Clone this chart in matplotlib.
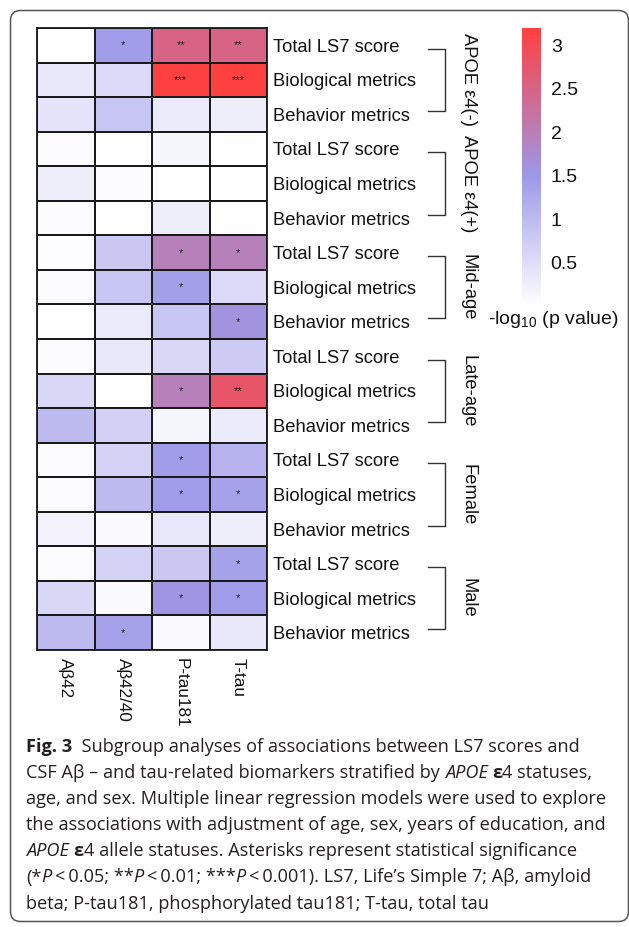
import numpy as np
import matplotlib.pyplot as plt
from matplotlib.colors import LinearSegmentedColormap
from matplotlib.patches import FancyBboxPatch

W, H = 629, 927

biomarkers = ['Aβ42', 'Aβ42/40', 'P-tau181', 'T-tau']
metrics = ['Total LS7 score', 'Biological metrics', 'Behavior metrics']
groups = ['APOE ε4(-)', 'APOE ε4(+)', 'Mid-age', 'Late-age', 'Female', 'Male']

# -log10(p) for each subgroup/metric row, columns follow biomarkers
apoe_neg = [[0.00, 1.45, 2.50, 2.50],
            [0.35, 0.55, 3.20, 3.20],
            [0.40, 0.85, 0.30, 0.25]]
apoe_pos = [[0.05, 0.00, 0.15, 0.00],
            [0.25, 0.05, 0.00, 0.00],
            [0.05, 0.00, 0.25, 0.00]]
mid_age = [[0.03, 0.80, 1.95, 1.95],
           [0.05, 0.85, 1.40, 0.55],
           [0.00, 0.30, 0.85, 1.60]]
late_age = [[0.05, 0.35, 0.60, 0.75],
            [0.60, 0.00, 1.95, 2.80],
            [1.00, 0.70, 0.15, 0.30]]
female = [[0.05, 0.65, 1.45, 1.10],
          [0.05, 1.00, 1.45, 1.35],
          [0.20, 0.08, 0.35, 0.25]]
male = [[0.05, 0.65, 0.80, 1.35],
        [0.60, 0.08, 1.55, 1.45],
        [1.00, 1.35, 0.08, 0.35]]

cbar_ticks = [0.5, 1, 1.5, 2, 2.5, 3]

plt.rcParams['font.family'] = ['Liberation Sans', 'DejaVu Sans']
plt.rcParams['mathtext.fontset'] = 'custom'
plt.rcParams['mathtext.rm'] = 'Liberation Sans'


def stars(v):
    '''Significance marks from -log10(p)'''
    if v >= 3:
        return '***'
    if v >= 2:
        return '**'
    if v >= -np.log10(0.05):
        return '*'
    return ''


def text_width(ax, s, renderer, **kw):
    '''Width in pixels, trailing/leading blanks included'''
    a = ax.text(0, 0, '|' + s + '|', **kw)
    b = ax.text(0, 0, '||', **kw)
    w = a.get_window_extent(renderer).width - b.get_window_extent(renderer).width
    a.remove()
    b.remove()
    return w


data = np.array(apoe_neg + apoe_pos + mid_age + late_age + female + male)
row_labels = metrics * len(groups)
n_rows, n_cols = data.shape

cmap = LinearSegmentedColormap.from_list(
    'pval', [(0, '#FFFFFF'), (0.47, '#9C98E8'), (1, '#FF4040')])

fig = plt.figure(figsize=(W / 100, H / 100), dpi=100)

# pixel-space overlay for frame, brackets and caption
ov = fig.add_axes([0, 0, 1, 1])
ov.set_xlim(0, W)
ov.set_ylim(H, 0)
ov.axis('off')
ov.add_patch(FancyBboxPatch((10.5, 10.5), W - 11, 911,
                            boxstyle='round,pad=0,rounding_size=10',
                            fc='none', ec='#555555', lw=1.1))

# heatmap
hm_left, hm_right, hm_top, hm_bottom = 37, 267, 28, 650
ax = fig.add_axes([hm_left / W, (H - hm_bottom) / H,
                   (hm_right - hm_left) / W, (hm_bottom - hm_top) / H])
mesh = ax.pcolormesh(data, cmap=cmap, vmin=0, vmax=3.2,
                     edgecolors='#1a1a1a', linewidth=1.3)
ax.set_xlim(0, n_cols)
ax.set_ylim(n_rows, 0)
for i in range(n_rows):
    for j in range(n_cols):
        s = stars(data[i, j])
        if s:
            ax.text(j + 0.5, i + 0.5, s, ha='center', va='center',
                    fontsize=8, color='#222222')
ax.yaxis.tick_right()
ax.set_yticks(np.arange(n_rows) + 0.5)
ax.set_yticklabels(row_labels, fontsize=13.2, color='#111111')
ax.set_xticks(np.arange(n_cols) + 0.5)
ax.set_xticklabels(biomarkers, rotation=-90, fontsize=12.3, color='#111111',
                   ha='center', va='top')
ax.tick_params(length=0, pad=4)
ax.tick_params(axis='x', pad=6)
for sp in ax.spines.values():
    sp.set_linewidth(1.3)
    sp.set_color('#1a1a1a')

# group brackets and labels
row_h = (hm_bottom - hm_top) / n_rows
for g, name in enumerate(groups):
    yc = hm_top + (3 * g + 1.5) * row_h
    y0, y1 = yc - 0.9 * row_h, yc + 0.9 * row_h
    ov.plot([428, 445, 445, 428], [y0, y0, y1, y1], color='#333333', lw=1)
    ov.text(468, yc, name, rotation=-90, ha='center', va='center',
            fontsize=13.2, color='#111111')

# colorbar
cax = fig.add_axes([522 / W, (H - 306) / H, 19 / W, 278 / H])
cb = fig.colorbar(mesh, cax=cax, ticks=cbar_ticks)
cb.outline.set_visible(False)
cb.ax.set_yticklabels([f'{t:g}' for t in cbar_ticks])
cb.ax.tick_params(length=0, pad=7, labelsize=14, labelcolor='#111111')
ov.text(553, 320, r'-log$_{10}$ (p value)', ha='center', va='center',
        fontsize=14, color='#111111')

# caption with mixed styles
normal = {}
bold = {'weight': 'bold'}
ital = {'style': 'italic'}
ts = '\u2009'
caption = [
    [('Fig. 3', bold), ('  Subgroup analyses of associations between LS7 scores and', normal)],
    [('CSF Aβ – and tau-related biomarkers stratified by ', normal), ('APOE', ital),
     (' ', normal), ('ε', bold), ('4 statuses,', normal)],
    [('age, and sex. Multiple linear regression models were used to explore', normal)],
    [('the associations with adjustment of age, sex, years of education, and', normal)],
    [('APOE', ital), (' ', normal), ('ε', bold),
     ('4 allele statuses. Asterisks represent statistical significance', normal)],
    [('(*', normal), ('P', ital), (ts + '<' + ts + '0.05; **', normal), ('P', ital),
     (ts + '<' + ts + '0.01; ***', normal), ('P', ital),
     (ts + '<' + ts + '0.001). LS7, Life’s Simple 7; Aβ, amyloid', normal)],
    [('beta; P-tau181, phosphorylated tau181; T-tau, total tau', normal)],
]
cap_font = ['Open Sans', 'DejaVu Sans']
renderer = fig.canvas.get_renderer()
ref = text_width(ov, caption[3][0][0], renderer, fontsize=10, family=cap_font)
cap_size = 10 * (605 - 26) / ref
for k, line in enumerate(caption):
    x = 26
    y = 752 + k * 26.1
    for s, style in line:
        kw = dict(fontsize=cap_size, family=cap_font, color='#231F20', **style)
        ov.text(x, y, s, ha='left', va='baseline', **kw)
        x += text_width(ov, s, renderer, **kw)

fig.savefig('out.png', dpi=100)
